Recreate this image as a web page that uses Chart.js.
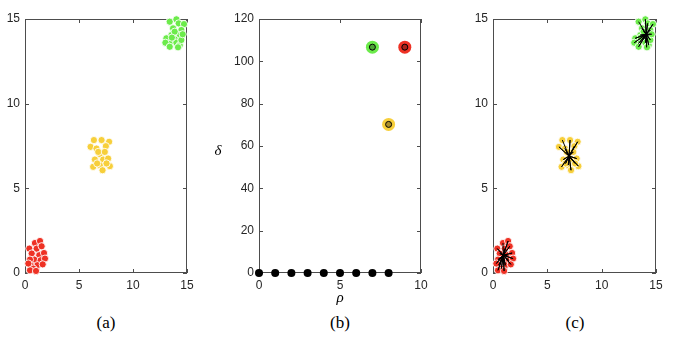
<!DOCTYPE html>
<html>
<head>
<meta charset="utf-8">
<script src="https://cdn.jsdelivr.net/npm/chart.js@4/dist/chart.umd.min.js"></script>
<style>
  body { margin: 0; background: #fff; }
  #wrap { position: relative; width: 674px; height: 344px; overflow: hidden; }
  .panel { position: absolute; top: 0; height: 300px; }
  .lbl { position: absolute; font-family: "Liberation Serif", "Times New Roman", serif; color: #000; transform: translate(-50%, -50%); white-space: nowrap; }
  .sub { font-size: 17px; top: 323px; }
  .sym { font-size: 15px; font-style: italic; }
</style>
</head>
<body>
<div id="wrap">
  <div class="panel" style="left:0;width:200px"><canvas id="chartA"></canvas></div>
  <div class="panel" style="left:215px;width:220px"><canvas id="chartB"></canvas></div>
  <div class="panel" style="left:460px;width:214px"><canvas id="chartC"></canvas></div>
  <div class="lbl sub" style="left:106px">(a)</div>
  <div class="lbl sub" style="left:340px">(b)</div>
  <div class="lbl sub" style="left:575px">(c)</div>
  <div class="lbl sym" style="left:340px;top:297px">ρ</div>
  <div class="lbl sym" style="left:218px;top:150px">δ</div>
</div>
<script>
/* Density-peak clustering: raw clusters, decision graph, assignments */
const C = {
  red:    '#EE3124',
  yellow: '#F7CF3B',
  green:  '#6CEB4B',
  axis:   '#4d4d4d',
  text:   '#262626',
};

// cluster members
const redX    = [0.92, 1.39, 0.40, 1.08, 1.54, 0.62, 1.32, 1.76, 0.86, 1.45, 0.46, 1.85, 1.14, 0.53, 1.64, 0.77, 0.46, 1.02, 0.31];
const redY    = [1.77, 1.89, 1.44, 1.44, 1.58, 1.15, 1.05, 1.18, 0.79, 0.75, 0.79, 0.85, 0.46, 0.46, 0.51, 0.26, 0.16, 0.12, 0.56];
const yellowX = [6.38, 7.09, 7.79, 6.07, 6.62, 7.49, 6.93, 6.47, 7.24, 7.70, 7.86, 6.31, 6.93, 7.18, 6.78, 7.39, 6.68, 7.55];
const yellowY = [7.85, 7.85, 7.75, 7.45, 7.35, 7.49, 7.02, 6.70, 6.70, 6.76, 6.31, 6.27, 6.37, 6.07, 7.15, 7.15, 6.47, 6.47];
const greenX  = [13.40, 14.02, 14.23, 14.72, 13.71, 14.48, 13.56, 14.33, 13.09, 13.86, 13.40, 14.02, 13.00, 14.33, 13.40, 14.17, 14.48, 13.86, 14.60, 13.60];
const greenY  = [14.84, 14.98, 14.74, 14.70, 14.45, 14.35, 14.05, 14.05, 13.86, 13.80, 13.56, 13.60, 13.60, 13.46, 13.36, 13.33, 13.76, 14.25, 14.10, 13.90];

// cluster centres (density peaks)
const redCenter    = [0.95, 1.05];
const yellowCenter = [7.00, 6.90];
const greenCenter  = [14.10, 14.10];

// decision graph
const rhoRest     = [0, 1, 2, 3, 4, 5, 6, 7, 8];
const deltaRest   = [0, 0, 0, 0, 0, 0, 0, 0, 0];
const rhoPeaks    = [9, 8, 7];
const deltaPeaks  = [106.7, 70.2, 106.7];
const peakColors  = [C.red, C.yellow, C.green];

const xyTicks   = [0, 5, 10, 15];
const rhoTicks  = [0, 5, 10];
const deltaTicks = [0, 20, 40, 60, 80, 100, 120];

const toPts = (xs, ys) => xs.map((x, i) => ({ x, y: ys[i] }));

// star: every member joined to its centre
const toStar = (xs, ys, c) => {
  const out = [];
  xs.forEach((x, i) => { out.push({ x, y: ys[i] }); out.push({ x: c[0], y: c[1] }); });
  return out;
};

// ── MATLAB-ish box with inward ticks ─────────────
const boxPlugin = {
  id: 'box',
  beforeDatasetsDraw(chart) {
    const { ctx, chartArea: a, scales: { x, y } } = chart;
    ctx.save();
    ctx.strokeStyle = C.axis;
    ctx.lineWidth = 1;
    ctx.strokeRect(a.left + 0.5, a.top + 0.5, a.right - a.left - 1, a.bottom - a.top - 1);
    ctx.beginPath();
    x.ticks.forEach(t => {
      const px = Math.round(x.getPixelForValue(t.value)) + 0.5;
      ctx.moveTo(px, a.bottom); ctx.lineTo(px, a.bottom - 4);
      ctx.moveTo(px, a.top);    ctx.lineTo(px, a.top + 4);
    });
    y.ticks.forEach(t => {
      const py = Math.round(y.getPixelForValue(t.value)) + 0.5;
      ctx.moveTo(a.left, py);  ctx.lineTo(a.left + 4, py);
      ctx.moveTo(a.right, py); ctx.lineTo(a.right - 4, py);
    });
    ctx.stroke();
    ctx.restore();
  },
};

function axis(min, max, values, fixed, isY) {
  return {
    type: 'linear',
    min, max,
    afterBuildTicks: s => { s.ticks = values.map(v => ({ value: v })); },
    afterFit: s => { if (isY) s.width = fixed; else s.height = fixed; },
    grid: { display: false, drawTicks: false },
    border: { display: false },
    ticks: { color: C.text, font: { family: 'Liberation Sans, Arial, sans-serif', size: 12 }, padding: 5, maxRotation: 0 },
  };
}

function panel(canvasId, datasets, xr, yr, yWidth, rightPad) {
  const ctx = document.getElementById(canvasId);
  return new Chart(ctx, {
    type: 'scatter',
    data: { datasets },
    options: {
      responsive: true,
      maintainAspectRatio: false,
      animation: false,
      layout: { padding: { top: 19, right: rightPad, left: 0, bottom: 0 } },
      plugins: { legend: { display: false }, tooltip: { enabled: false } },
      scales: {
        x: axis(xr[0], xr[1], xr[2], 27, false),
        y: axis(yr[0], yr[1], yr[2], yWidth, true),
      },
    },
    plugins: [boxPlugin],
  });
}

function clusterSet(xs, ys, color) {
  return {
    data: toPts(xs, ys),
    backgroundColor: color,
    borderColor: 'rgba(255,255,255,0.85)',
    borderWidth: 1,
    pointRadius: 3.6,
    clip: false,
    order: 2,
  };
}

function starSet(xs, ys, c) {
  return {
    data: toStar(xs, ys, c),
    showLine: true,
    borderColor: '#000',
    borderWidth: 1,
    pointRadius: 0,
    clip: false,
    order: 1,
  };
}

// ── (a) raw clusters ─────────────────────────────
panel('chartA', [
  clusterSet(redX, redY, C.red),
  clusterSet(yellowX, yellowY, C.yellow),
  clusterSet(greenX, greenY, C.green),
], [0, 15, xyTicks], [0, 15, xyTicks], 25, 13);

// ── (b) decision graph ───────────────────────────
panel('chartB', [
  {
    data: toPts(rhoPeaks, deltaPeaks),
    backgroundColor: 'rgba(0,0,0,0.3)',
    borderColor: '#000',
    borderWidth: 1,
    pointRadius: 3,
    clip: false,
    order: 1,
  },
  {
    data: toPts(rhoPeaks, deltaPeaks),
    backgroundColor: peakColors,
    borderWidth: 0,
    pointRadius: 6.5,
    clip: false,
    order: 2,
  },
  {
    data: toPts(rhoRest, deltaRest),
    backgroundColor: '#000',
    borderWidth: 0,
    pointRadius: 4,
    clip: false,
    order: 3,
  },
], [0, 10, rhoTicks], [0, 120, deltaTicks], 44, 14);

// ── (c) assignment to centres ────────────────────
panel('chartC', [
  starSet(redX, redY, redCenter),
  starSet(yellowX, yellowY, yellowCenter),
  starSet(greenX, greenY, greenCenter),
  clusterSet(redX, redY, C.red),
  clusterSet(yellowX, yellowY, C.yellow),
  clusterSet(greenX, greenY, C.green),
], [0, 15, xyTicks], [0, 15, xyTicks], 33, 18);
</script>
</body>
</html>
